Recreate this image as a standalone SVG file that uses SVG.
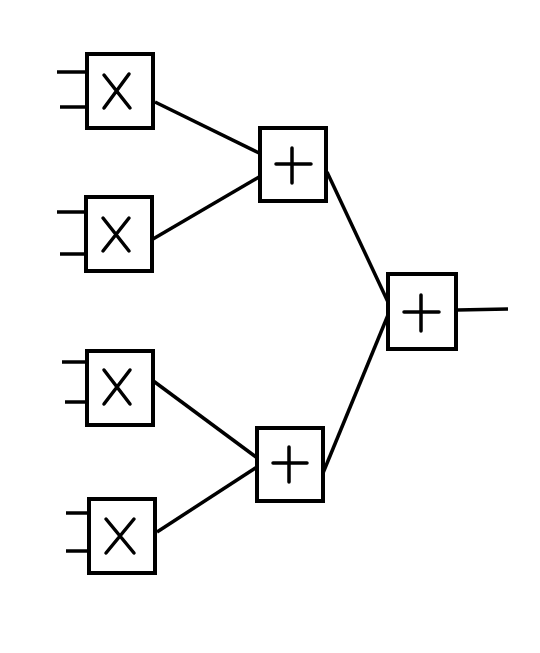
<svg xmlns="http://www.w3.org/2000/svg" width="540" height="653" viewBox="0 0 540 653">
<style>
.box{fill:#fff;stroke:#000;stroke-width:4}
.ln{stroke:#000;stroke-width:3.5;fill:none;stroke-linecap:butt}
.sym{stroke:#000;stroke-width:3.5;stroke-linecap:round;fill:none}
</style>
<rect width="540" height="653" fill="#fff"/>
<g id="connectors">
<line class="ln" x1="57" y1="72" x2="87" y2="72"/>
<line class="ln" x1="60" y1="107" x2="87" y2="107"/>
<line class="ln" x1="57" y1="212" x2="86" y2="212"/>
<line class="ln" x1="60" y1="254" x2="86" y2="254"/>
<line class="ln" x1="62" y1="362" x2="87" y2="362"/>
<line class="ln" x1="65" y1="402" x2="87" y2="402"/>
<line class="ln" x1="66" y1="513" x2="89" y2="513"/>
<line class="ln" x1="66" y1="551" x2="89" y2="551"/>
<line class="ln" x1="155" y1="102" x2="259" y2="153"/>
<line class="ln" x1="153" y1="239" x2="259" y2="177"/>
<line class="ln" x1="152" y1="380" x2="256" y2="457"/>
<line class="ln" x1="157" y1="532" x2="257" y2="467"/>
<line class="ln" x1="327" y1="172" x2="388" y2="302"/>
<line class="ln" x1="323" y1="473" x2="388" y2="315"/>
<line class="ln" x1="457" y1="310" x2="508" y2="309"/>
</g>
<g id="mul1">
<rect class="box" x="87" y="54" width="66" height="74"/>
<path class="sym" d="M104 75 L130 108 M129 74 L104 108"/>
</g>
<g id="mul2">
<rect class="box" x="86" y="197" width="66" height="74"/>
<path class="sym" d="M103 218 L129 251 M129 218 L103 251"/>
</g>
<g id="mul3">
<rect class="box" x="87" y="351" width="66" height="74"/>
<path class="sym" d="M104 370 L130 404 M130 370 L104 404"/>
</g>
<g id="mul4">
<rect class="box" x="89" y="499" width="66" height="74"/>
<path class="sym" d="M106 519 L134 553 M134 519 L106 553"/>
</g>
<g id="add1">
<rect class="box" x="260" y="128" width="66" height="73"/>
<path class="sym" d="M276 164 L311 164 M292 148 L292 183"/>
</g>
<g id="add2">
<rect class="box" x="257" y="428" width="66" height="73"/>
<path class="sym" d="M273 463 L307 463 M289 447 L289 482"/>
</g>
<g id="add3">
<rect class="box" x="388" y="274" width="68" height="75"/>
<path class="sym" d="M404 312 L439 312 M421 295 L421 331"/>
</g>
</svg>
